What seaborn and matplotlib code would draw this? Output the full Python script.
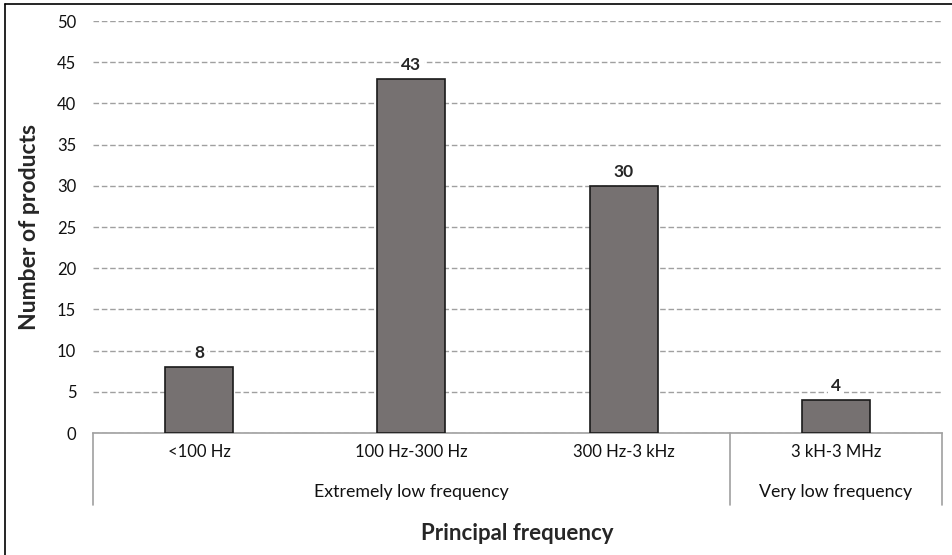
import matplotlib
matplotlib.use("Agg")
import matplotlib.pyplot as plt
import seaborn as sns
import pandas as pd
from matplotlib.lines import Line2D

categories = ["<100 Hz", "100 Hz-300 Hz", "300 Hz-3 kHz", "3 kH-3 MHz"]
counts = [8, 43, 30, 4]
groups = ["Extremely low frequency", "Extremely low frequency",
          "Extremely low frequency", "Very low frequency"]

df = pd.DataFrame({"cat": categories, "n": counts, "group": groups})

sns.set_style("white")
plt.rcParams["font.family"] = ["Lato", "DejaVu Sans"]

fig = plt.figure(figsize=(9.52, 5.55), dpi=100)
ax = fig.add_axes([93 / 952, 1 - 433 / 555, (942 - 93) / 952, 412 / 555])

sns.barplot(data=df, x="cat", y="n", color="#767171", width=0.32,
            edgecolor="#1a1a1a", linewidth=1.2, saturation=1, ax=ax, zorder=3)

ax.set_ylim(0, 50)
ax.set_xlim(-0.5, len(categories) - 0.5)
ax.set_yticks(range(0, 51, 5))
ax.yaxis.grid(True, linestyle=(0, (4, 2)), color="#a0a0a0", linewidth=1, zorder=0)
ax.set_axisbelow(True)
for s in ["top", "right", "left"]:
    ax.spines[s].set_visible(False)
ax.spines["bottom"].set_color("#a0a0a0")
ax.spines["bottom"].set_linewidth(1.2)
ax.tick_params(axis="both", length=0, labelsize=12, colors="#111111")
ax.tick_params(axis="y", pad=12)
ax.tick_params(axis="x", pad=8)
ax.set_ylabel("Number of products", fontsize=16.5, fontweight="bold", labelpad=12)
ax.set_xlabel("")

# value labels with white box over gridlines
for i, v in enumerate(counts):
    ax.text(i, v + 1.7, str(v), ha="center", va="center", fontsize=12.5,
            fontweight="bold", zorder=5,
            bbox=dict(facecolor="white", edgecolor="none", pad=2))

# group separators and group labels
tr = ax.get_xaxis_transform()
for xpos in [-0.5, 2.5, 3.5]:
    ax.add_line(Line2D([xpos, xpos], [0, -0.175], transform=tr, color="#a0a0a0",
                       linewidth=1.2, clip_on=False))
group_names = []
for g in groups:
    if g not in group_names:
        group_names.append(g)
for g in group_names:
    idx = [i for i, gg in enumerate(groups) if gg == g]
    ax.text((idx[0] + idx[-1]) / 2, -0.143, g, transform=tr, ha="center",
            va="center", fontsize=12.8, color="#111111")

fig.text((93 + 942) / 2 / 952, 1 - 534 / 555, "Principal frequency",
         ha="center", va="center", fontsize=16, fontweight="bold")

# figure border (left and top)
fig.add_artist(Line2D([5 / 952, 5 / 952], [0, 1 - 4 / 555], color="black",
                      linewidth=1.2, transform=fig.transFigure))
fig.add_artist(Line2D([5 / 952, 1], [1 - 4 / 555, 1 - 4 / 555], color="black",
                      linewidth=1.2, transform=fig.transFigure))

fig.savefig("out.png", dpi=100)
